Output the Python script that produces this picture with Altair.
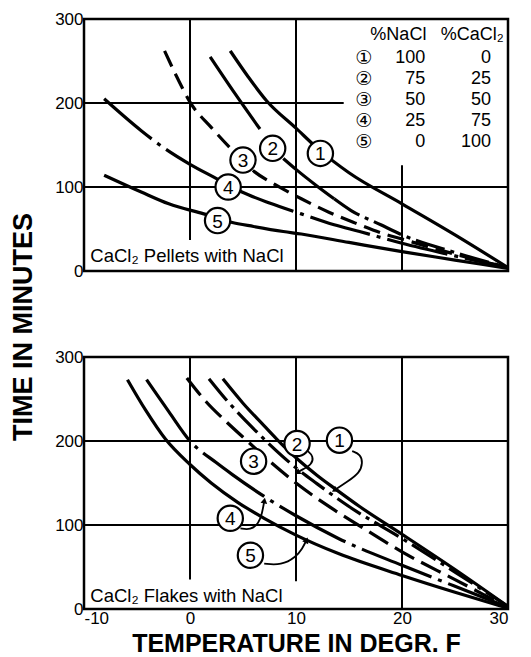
import math
import altair as alt
import pandas as pd

# ---------------- data ----------------
X_TICKS = [-10, 0, 10, 20, 30]
Y_TICKS = [0, 100, 200, 300]

# Top panel: CaCl2 pellets with NaCl  (temperature degF, time minutes)
pel1_x = [3.8, 5.5, 7.2, 10, 12.3, 15, 20, 25, 30]
pel1_y = [262, 231, 203, 170, 143, 117, 80, 43, 4]
pel2a_x = [1.9, 4.2, 6.6]
pel2a_y = [255, 212, 169]
pel2b_x = [8.8, 10, 12, 13.6]
pel2b_y = [134, 121, 101, 86]
pel2c_x = [13.6, 15.2, 18, 20, 25, 30]
pel2c_y = [86, 72, 55, 43, 22, 4]
pel3_x = [-2.4, -1.2, 0, 2, 3.9, 6.1, 8, 10.5, 13.1, 15.6, 18.1, 20, 25, 30]
pel3_y = [262, 230, 201, 171, 145, 118, 103, 86, 70, 57, 45, 38, 20, 4]
pel4_x = [-8.1, -4.6, -2.4, 0, 2.2, 4.9, 7.5, 10.5, 13.6, 16, 20, 25, 30]
pel4_y = [205, 167, 146, 127, 112, 94, 81, 68, 55, 47, 33, 18, 4]
pel5_x = [-8.1, -4.6, -2, 1.3, 3.9, 6, 8.8, 10.5, 15, 20, 25, 30]
pel5_y = [114, 94, 80, 68, 58, 53, 47, 44, 34, 23, 13, 3]

# Bottom panel: CaCl2 flakes with NaCl
fl1_x = [3.1, 5, 7, 8.2, 10, 12, 13.7, 16, 20, 25, 30]
fl1_y = [274, 245, 218, 202, 180, 159, 143, 122, 89, 47, 3]
fl2_x = [1.8, 3.5, 5.5, 7.5, 10, 12, 15, 20, 25, 30]
fl2_y = [274, 248, 221, 196, 168, 149, 122, 84, 44, 3]
fl3_x = [-0.3, 1.5, 3.5, 5.4, 7.5, 10, 13, 16, 20, 25, 30]
fl3_y = [275, 247, 222, 200, 176, 150, 123, 99, 68, 35, 2]
fl4_x = [-4.1, -2, 0, 2.5, 4, 7, 10, 14, 20, 25, 30]
fl4_y = [273, 235, 200, 174, 160, 134, 111, 84, 52, 27, 2]
fl5_x = [-5.9, -4.2, -2.3, 0, 2, 4.5, 7, 10, 14, 20, 25, 30]
fl5_y = [273, 237, 202, 172, 150, 127, 108, 88, 66, 40, 20, 1]

# curve number labels
curve_ids = ["1", "2", "3", "4", "5"]
pel_lab_x = [12.3, 7.8, 5.0, 3.6, 2.6]
pel_lab_y = [140, 146, 132, 100, 60]
fl_lab_x = [14.1, 10.1, 6.0, 3.8, 5.7]
fl_lab_y = [201, 197, 176, 108, 64]

# leader lines (bottom panel)
lead1_x = [15.3, 16.1, 16.3, 16.0, 14.9, 13.7]
lead1_y = [188, 184, 174, 162, 152, 142]
lead2_x = [11.1, 11.65, 11.5, 10.6, 10.2]
lead2_y = [188, 182, 172, 166, 163]
lead4_x = [4.76, 5.7, 6.5, 6.8, 7.0]
lead4_y = [96, 94, 102, 114, 128]
lead5_x = [7.0, 8.6, 10.0, 10.6, 10.95]
lead5_y = [54, 52, 62, 72, 81]

# legend table
legend_sym = ["\u2460", "\u2461", "\u2462", "\u2463", "\u2464"]
legend_nacl = [100, 75, 50, 25, 0]
legend_cacl2 = [0, 25, 50, 75, 100]

# grid segments (gridlines interrupted by the legend / caption boxes)
top_vgrid_x = [0, 10, 20]
top_vgrid_y0 = [37, 0, 0]
top_vgrid_y1 = [300, 300, 126]
top_hgrid_y = [100, 200]
top_hgrid_x0 = [-10, -10]
top_hgrid_x1 = [30, 14.5]
bot_vgrid_x = [0, 10, 20]
bot_vgrid_y0 = [35, 33, 0]
bot_vgrid_y1 = [300, 300, 300]
bot_hgrid_y = [100, 200]
bot_hgrid_x0 = [-10, -10]
bot_hgrid_x1 = [30, 30]

# ---------------- chart ----------------
W, H = 424, 252
FONT = "Liberation Sans"
XTITLE = {"t": None}

xscale = alt.Scale(domain=[-10, 30], nice=False, zero=False)
yscale = alt.Scale(domain=[0, 300], nice=False)


def X(field="x"):
    return alt.X(f"{field}:Q", scale=xscale,
                 axis=alt.Axis(values=X_TICKS, title=XTITLE["t"],
                               labelExpr="datum.value < 0 ? '-' + abs(datum.value) : datum.label"))


def Y(field="y"):
    return alt.Y(f"{field}:Q", scale=yscale, axis=alt.Axis(values=Y_TICKS, title=None))


def line_layer(xs, ys, dash, width=3.2, interp="monotone"):
    df = pd.DataFrame({"x": xs, "y": ys, "i": list(range(len(xs)))})
    kw = dict(color="black", strokeWidth=width, interpolate=interp)
    if dash:
        kw["strokeDash"] = dash
    return alt.Chart(df).mark_line(**kw).encode(x=X(), y=Y(), order="i:Q")


def grid_layers(vx, vy0, vy1, hy, hx0, hx1):
    dv = pd.DataFrame({"x": vx, "y": vy0, "y2": vy1})
    dh = pd.DataFrame({"y": hy, "x": hx0, "x2": hx1})
    v = alt.Chart(dv).mark_rule(color="black", strokeWidth=2).encode(
        x=X(), y=Y(), y2="y2:Q")
    h = alt.Chart(dh).mark_rule(color="black", strokeWidth=2).encode(
        y=Y(), x=X(), x2="x2:Q")
    return [v, h]


def label_layers(lx, ly):
    df = pd.DataFrame({"x": lx, "y": ly, "t": curve_ids})
    circ = alt.Chart(df).mark_point(shape="circle", size=640, filled=True,
                                     fill="white", stroke="black",
                                     strokeWidth=2.2, opacity=1).encode(x=X(), y=Y())
    txt = alt.Chart(df).mark_text(font=FONT, fontSize=19, color="black",
                                   baseline="middle", align="center", dy=1).encode(
        x=X(), y=Y(), text="t:N")
    return [circ, txt]


def arrow_layer(leads):
    rows = []
    for xs, ys in leads:
        dx = (xs[-1] - xs[-2]) * W / 40.0
        dy = -(ys[-1] - ys[-2]) * H / 300.0
        ang = math.degrees(math.atan2(dx, -dy)) % 360
        rows.append({"x": xs[-1], "y": ys[-1], "a": ang})
    df = pd.DataFrame(rows)
    return alt.Chart(df).mark_point(shape="triangle", size=45, filled=True,
                                    color="black", opacity=1).encode(
        x=X(), y=Y(), angle=alt.Angle("a:Q", scale=None))


def caption(text, yv):
    df = pd.DataFrame({"x": [-9.4], "y": [yv], "t": [text]})
    return alt.Chart(df).mark_text(font=FONT, fontSize=18.5, color="black",
                                   align="left", baseline="middle").encode(
        x=X(), y=Y(), text="t:N")


# ----- top panel -----
XTITLE["t"] = None
top_layers = grid_layers(top_vgrid_x, top_vgrid_y0, top_vgrid_y1,
                         top_hgrid_y, top_hgrid_x0, top_hgrid_x1)
top_layers += [
    line_layer(pel1_x, pel1_y, None),
    line_layer(pel2a_x, pel2a_y, None),
    line_layer(pel2b_x, pel2b_y, None),
    line_layer(pel2c_x, pel2c_y, [30, 6, 4, 6]),
    line_layer(pel3_x, pel3_y, [17, 8]),
    line_layer(pel4_x, pel4_y, [62, 7, 4, 7]),
    line_layer(pel5_x, pel5_y, None),
]
top_layers += label_layers(pel_lab_x, pel_lab_y)

leg_rows = pd.DataFrame({
    "sym": legend_sym,
    "nacl": [str(v) for v in legend_nacl],
    "cacl": [str(v) for v in legend_cacl2],
    "y": [253 - 25 * i for i in range(5)],
})
leg_base = alt.Chart(leg_rows).mark_text(font=FONT, fontSize=18, color="black",
                                          baseline="middle", align="right")
top_layers += [
    alt.Chart(leg_rows).mark_text(font="DejaVu Sans", fontSize=19, color="black",
                                  baseline="middle", align="center").encode(
        x=alt.X("xs:Q", scale=xscale, axis=None), y=Y(), text="sym:N").transform_calculate(xs="16.4"),
    leg_base.encode(x=alt.X("xn:Q", scale=xscale, axis=None), y=Y(), text="nacl:N").transform_calculate(xn="22.2"),
    leg_base.encode(x=alt.X("xc:Q", scale=xscale, axis=None), y=Y(), text="cacl:N").transform_calculate(xc="28.4"),
]
hdr = pd.DataFrame({"x": [22.3, 29.6], "y": [281, 281], "t": ["%NaCl", "%CaCl\u2082"]})
top_layers.append(alt.Chart(hdr).mark_text(font=FONT, fontSize=18, color="black",
                                           baseline="middle", align="right").encode(
    x=X(), y=Y(), text="t:N"))
top_layers.append(caption("CaCl\u2082 Pellets with NaCl", 18))

top = alt.layer(*top_layers).properties(width=W, height=H)

# ----- bottom panel -----
XTITLE["t"] = "TEMPERATURE IN DEGR. F"
bot_layers = grid_layers(bot_vgrid_x, bot_vgrid_y0, bot_vgrid_y1,
                         bot_hgrid_y, bot_hgrid_x0, bot_hgrid_x1)
leads = [(lead1_x, lead1_y), (lead2_x, lead2_y), (lead4_x, lead4_y), (lead5_x, lead5_y)]
bot_layers += [line_layer(lx, ly, None, width=1.8, interp="basis") for lx, ly in leads]
bot_layers.append(arrow_layer(leads))
bot_layers += [
    line_layer(fl1_x, fl1_y, None),
    line_layer(fl2_x, fl2_y, [28, 6, 4, 6]),
    line_layer(fl3_x, fl3_y, [22, 8]),
    line_layer(fl4_x, fl4_y, [75, 7, 4, 7]),
    line_layer(fl5_x, fl5_y, None),
]
bot_layers += label_layers(fl_lab_x, fl_lab_y)
bot_layers.append(caption("CaCl\u2082 Flakes with NaCl", 15))

bottom = alt.layer(*bot_layers).properties(width=W, height=H)

chart = alt.vconcat(top, bottom, spacing=86, bounds="flush").properties(
    title=alt.TitleParams(text="TIME IN MINUTES", orient="left", anchor="middle",
                          font=FONT, fontSize=27, fontWeight="bold", color="black",
                          offset=15, dx=6),
    padding={"left": 2, "top": 0, "right": 5, "bottom": 0},
).configure_view(stroke="black", strokeWidth=2.5).configure_axis(
    labelFont=FONT, labelFontSize=17, labelColor="black", tickSize=0,
    domain=False, grid=False, labelPadding=1,
    titleFont=FONT, titleFontWeight="bold", titleFontSize=25, titleColor="black",
    titleBaseline="alphabetic", titleY=42,
)

chart.save("out.html", embed_options={"renderer": "svg", "actions": False})
